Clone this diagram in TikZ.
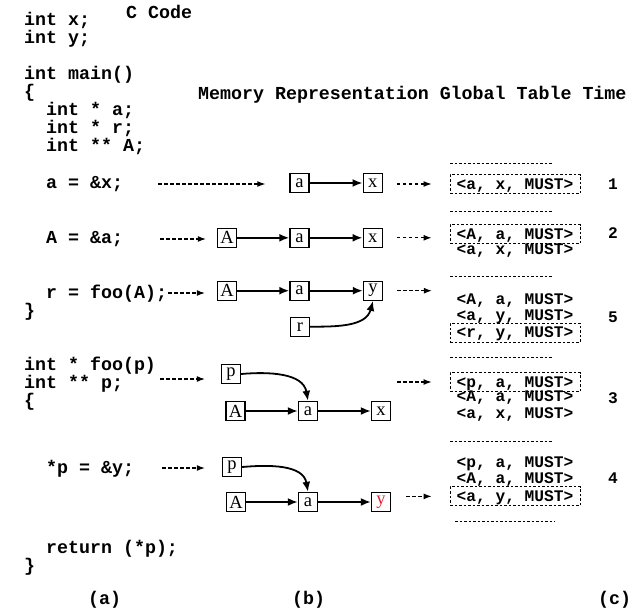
\documentclass[tikz,border=0pt]{standalone}
\usepackage{fontspec}
\usetikzlibrary{arrows.meta}
\newfontfamily\monof{Liberation Mono}
\newfontfamily\timesf{Liberation Serif}
\definecolor{hired}{RGB}{232,30,50}
\begin{document}
\begin{tikzpicture}[x=1pt,y=-1pt,
  code/.style={anchor=base west, inner sep=0pt, font=\monof\bfseries\fontsize{18.3}{18.3}\selectfont},
  tab/.style={inner sep=0pt, minimum width=130pt, minimum height=19pt, text height=12pt, text depth=2pt, font=\monof\bfseries\fontsize{16.2}{16.2}\selectfont},
  boxed/.style={draw, line width=0.9pt, dash pattern=on 2.5pt off 2pt},
  sep/.style={line width=0.9pt, dash pattern=on 2.5pt off 2pt},
  mem/.style={draw, line width=1.4pt, minimum width=19pt, minimum height=19pt, inner sep=0pt, font=\timesf\fontsize{18.5}{18.5}\selectfont},
  solidarr/.style={line width=1.8pt, -{Latex[length=10pt,width=8pt]}},
  darr/.style={line width=1.1pt, dash pattern=on 3.5pt off 2.5pt, -{Latex[length=8pt,width=6pt]}},
  num/.style={anchor=base, inner sep=0pt, font=\monof\bfseries\fontsize{16.2}{16.2}\selectfont}]
\useasboundingbox (0,0) rectangle (637,610);

% headings
\node[code] (hc) at (126,18.3) {C Code};
\node[code] (hm) at (198,99.5) {Memory Representation Global Table Time};

% code column
\node[code] (c1) at (24,26) {int x;};
\node[code] (c2) at (24,43.5) {int y;};
\node[code] (c3) at (24,79.5) {int main()};
\node[code] (c4) at (24,97.5) {\{};
\node[code] (c5) at (46,115) {int * a;};
\node[code] (c6) at (46,133) {int * r;};
\node[code] (c7) at (46,151) {int ** A;};
\node[code] (c8) at (46,188.5) {a = \&x;};
\node[code] (c9) at (46,243) {A = \&a;};
\node[code] (c10) at (46,298) {r = foo(A);};
\node[code] (c11) at (24,316) {\}};
\node[code] (c12) at (24,370.5) {int * foo(p)};
\node[code] (c13) at (24,388) {int ** p;};
\node[code] (c14) at (24,406) {\{};
\node[code] (c15) at (46,473) {*p = \&y;};
\node[code] (c16) at (46,553) {return (*p);};
\node[code] (c17) at (24,571) {\}};

\node[code] (la) at (88,604) {(a)};
\node[code] (lb) at (292,604) {(b)};
\node[code] (lc) at (598,604) {(c)};

% memory representation
\node[mem] (a1) at (299.5,183) {a};
\node[mem] (x1) at (372.7,183) {x};

\node[mem] (A2) at (227,237.8) {A};
\node[mem] (a2) at (299.5,237.8) {a};
\node[mem] (x2) at (372.7,237.8) {x};

\node[mem] (A3) at (227,290.7) {A};
\node[mem] (a3) at (299.5,290.7) {a};
\node[mem] (y3) at (373,290.7) {y};
\node[mem] (r3) at (300,326.7) {r};

\node[mem] (p4) at (231,374) {p};
\node[mem] (A4) at (235.5,411) {A};
\node[mem] (a4) at (308,411) {a};
\node[mem] (x4) at (381,411) {x};

\node[mem] (p5) at (232,467) {p};
\node[mem] (A5) at (236,502) {A};
\node[mem] (a5) at (308,502) {a};
\node[mem, text=hired] (y5) at (381,502) {y};

\draw[solidarr] (a1) -- (x1);
\draw[solidarr] (A2) -- (a2);
\draw[solidarr] (a2) -- (x2);
\draw[solidarr] (A3) -- (a3);
\draw[solidarr] (a3) -- (y3);
\draw[solidarr] (r3.east) to[out=0,in=-105] (y3.south);
\draw[solidarr] (p4.east) to[out=5,in=100] (a4.north);
\draw[solidarr] (A4) -- (a4);
\draw[solidarr] (a4) -- (x4);
\draw[solidarr] (p5.east) to[out=5,in=100] (a5.north);
\draw[solidarr] (A5) -- (a5);
\draw[solidarr] (a5) -- (y5);

% global table
\draw[sep] (450,163) -- (552,163);
\node[tab, boxed] (t1a) at (515,184) {<a, x, MUST>};
\node[num] (n1) at (613,189.5) {1};

\draw[sep] (450,211) -- (552,211);
\node[tab, boxed] (t2a) at (515,234) {<A, a, MUST>};
\node[tab] (t2b) at (515,249.5) {<a, x, MUST>};
\node[num] (n2) at (613,238.5) {2};

\draw[sep] (450,276.7) -- (552,276.7);
\node[tab] (t5a) at (515,299) {<A, a, MUST>};
\node[tab] (t5b) at (515,315.7) {<a, y, MUST>};
\node[tab, boxed] (t5c) at (515,332.8) {<r, y, MUST>};
\node[num] (n5) at (613,322) {5};

\draw[sep] (450,357.7) -- (552,357.7);
\node[tab, boxed] (t3a) at (515,382) {<p, a, MUST>};
\node[tab] (t3b) at (515,396.5) {<A, a, MUST>};
\node[tab] (t3c) at (515,413) {<a, x, MUST>};
\node[num] (n3) at (613,403.5) {3};

\draw[sep] (450,441) -- (552,441);
\node[tab] (t4a) at (515,462.7) {<p, a, MUST>};
\node[tab] (t4b) at (515,478.5) {<A, a, MUST>};
\node[tab, boxed] (t4c) at (515,496.4) {<a, y, MUST>};
\node[num] (n4) at (613,483.5) {4};
\draw[sep] (455,521.7) -- (555,521.7);

% code -> memory arrows
\coordinate (s1) at (158,184);
\coordinate (s2) at (160,239);
\coordinate (s3) at (168,293);
\coordinate (s4) at (160,379);
\coordinate (s5) at (162,468);
\draw[darr, shorten >=24pt] (s1) -- (s1 -| a1.west);
\draw[darr, shorten >=11pt] (s2) -- (s2 -| A2.west);
\draw[darr, shorten >=12pt] (s3) -- (s3 -| A3.west);
\draw[darr, shorten >=16pt] (s4) -- (s4 -| p4.west);
\draw[darr, shorten >=17pt] (s5) -- (s5 -| p5.west);

% memory -> table arrows
\draw[darr, shorten <=14pt, shorten >=18pt] (x1.east |- t1a.west) -- (t1a.west);
\draw[darr, shorten <=14pt, shorten >=18pt] (x2.east) -- (x2.east -| t2a.west);
\draw[darr, shorten <=14pt, shorten >=18pt] (y3.east) -- (y3.east -| t5a.west);
\draw[darr, shorten <=6pt, shorten >=18pt] (t3a.west -| x4.east) -- (t3a.west);
\draw[darr, shorten <=15pt, shorten >=18pt] (y5.east |- t4c.west) -- (t4c.west);
\end{tikzpicture}
\end{document}
